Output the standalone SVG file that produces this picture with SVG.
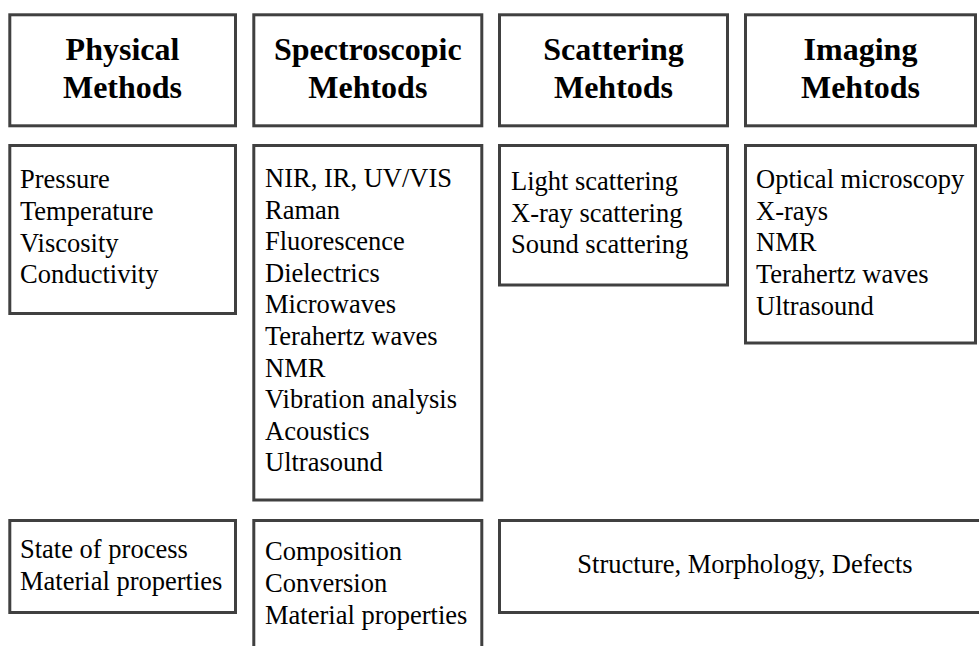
<svg xmlns="http://www.w3.org/2000/svg" width="979" height="646" viewBox="0 0 979 646">
<style>
rect.b{fill:#fff;stroke:#404040;stroke-width:3}
.h{font-family:'Liberation Serif','DejaVu Serif',serif;font-size:32px;font-weight:bold;text-anchor:middle;fill:#000}
.t{font-family:'Liberation Serif','DejaVu Serif',serif;font-size:26.5px;font-weight:normal;fill:#000}
</style>
<rect width="979" height="646" fill="#fff"/>
<g id="h1"><rect class="b" x="9.8" y="14.8" width="225.7" height="111"/><text class="h" x="122.5" y="60">Physical</text><text class="h" x="122.5" y="98">Methods</text></g>
<g id="h2"><rect class="b" x="253.8" y="14.8" width="228" height="111"/><text class="h" x="367.8" y="60">Spectroscopic</text><text class="h" x="367.8" y="98">Mehtods</text></g>
<g id="h3"><rect class="b" x="499.5" y="14.8" width="228" height="111"/><text class="h" x="613.5" y="60">Scattering</text><text class="h" x="613.5" y="98">Mehtods</text></g>
<g id="h4"><rect class="b" x="745.5" y="14.8" width="230" height="111"/><text class="h" x="860.5" y="60">Imaging</text><text class="h" x="860.5" y="98">Mehtods</text></g>
<g id="m1"><rect class="b" x="9.8" y="145.5" width="225.7" height="168"/>
<text class="t" x="20" y="188">Pressure</text><text class="t" x="20" y="220">Temperature</text><text class="t" x="20" y="252">Viscosity</text><text class="t" x="20" y="283">Conductivity</text></g>
<g id="m2"><rect class="b" x="253.8" y="145.5" width="228" height="354.5"/>
<text class="t" x="265" y="187">NIR, IR, UV/VIS</text><text class="t" x="265" y="218.6">Raman</text><text class="t" x="265" y="250.2">Fluorescence</text><text class="t" x="265" y="281.8">Dielectrics</text><text class="t" x="265" y="313.4">Microwaves</text><text class="t" x="265" y="345">Terahertz waves</text><text class="t" x="265" y="376.6">NMR</text><text class="t" x="265" y="408.2">Vibration analysis</text><text class="t" x="265" y="439.8">Acoustics</text><text class="t" x="265" y="471.4">Ultrasound</text></g>
<g id="m3"><rect class="b" x="499.5" y="145.5" width="228" height="139.5"/>
<text class="t" x="511" y="190">Light scattering</text><text class="t" x="511" y="221.7">X-ray scattering</text><text class="t" x="511" y="253.4">Sound scattering</text></g>
<g id="m4"><rect class="b" x="745.5" y="145.5" width="230" height="197.5"/>
<text class="t" x="756" y="188">Optical microscopy</text><text class="t" x="756" y="219.7">X-rays</text><text class="t" x="756" y="251.4">NMR</text><text class="t" x="756" y="283.1">Terahertz waves</text><text class="t" x="756" y="314.8">Ultrasound</text></g>
<g id="r1"><rect class="b" x="9.8" y="520.5" width="225.7" height="92"/>
<text class="t" x="20" y="558">State of process</text><text class="t" x="20" y="589.5">Material properties</text></g>
<g id="r2"><rect class="b" x="253.8" y="520.5" width="228" height="200"/>
<text class="t" x="265" y="560">Composition</text><text class="t" x="265" y="592">Conversion</text><text class="t" x="265" y="623.5">Material properties</text></g>
<g id="r3"><rect class="b" x="499.5" y="520.5" width="485" height="92"/>
<text class="t" x="745" y="573" text-anchor="middle">Structure, Morphology, Defects</text></g>
<g id="connectors"/>
</svg>
